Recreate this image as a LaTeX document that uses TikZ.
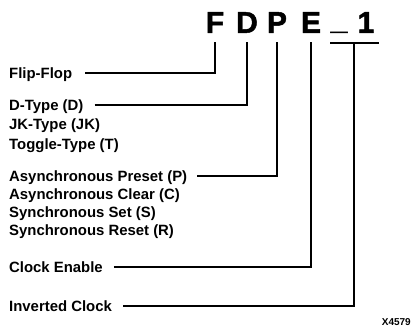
\documentclass[tikz,border=0pt]{standalone}
\usepackage{fontspec}
\setmainfont{Liberation Sans}
\newfontfamily\heavyfont[FakeBold=1.6]{Liberation Sans Bold}
\begin{document}
\begin{tikzpicture}[x=1pt,y=-1pt,
  lbl/.style={anchor=west,inner sep=0pt,text height=10.6pt,text depth=0pt,font=\fontsize{14.9}{16}\selectfont\bfseries},
  ttl/.style={inner sep=0pt,text height=21.5pt,text depth=0pt,anchor=south,font=\fontsize{30}{32}\selectfont\heavyfont},
  conn/.style={line width=1.4pt}]
\useasboundingbox (0,0) rectangle (412,332);
% title letters
\node[ttl] (F) at (215,33) {F};
\node[ttl] (D) at (247,33) {D};
\node[ttl] (P) at (277,33) {P};
\node[ttl] (E) at (311,33) {E};
\node[ttl] (U) at (339,33) {\raisebox{3.5pt}{\_}};
\node[ttl] (O) at (366,33) {1};
\coordinate (ovL) at (330,43);
\coordinate (ovR) at (379,43);
\coordinate (ov) at (354,43);
\draw[conn] (ovL) -- (ovR);
% labels
\node[lbl] (lFF) at (9,73) {Flip-Flop};
\node[lbl] (lD) at (9,105) {D-Type (D)};
\node[lbl] (lJK) at (9,124.5) {JK-Type (JK)};
\node[lbl] (lT) at (9,144) {Toggle-Type (T)};
\node[lbl] (lAP) at (9,176) {Asynchronous Preset (P)};
\node[lbl] (lAC) at (9,194) {Asynchronous Clear (C)};
\node[lbl] (lSS) at (9,212) {Synchronous Set (S)};
\node[lbl] (lSR) at (9,230) {Synchronous Reset (R)};
\node[lbl] (lCE) at (9,267) {Clock Enable};
\node[lbl] (lIC) at (9,306) {Inverted Clock};
\node[inner sep=0pt,anchor=east,font=\fontsize{10}{12}\selectfont\bfseries] (code) at (411,322) {X4579};
% connectors
\draw[conn] ([xshift=13pt]lFF.east) -| ([yshift=-9pt]F.south);
\draw[conn] ([xshift=11pt]lD.east) -| ([yshift=-9pt]D.south);
\draw[conn] ([xshift=10pt]lAP.east) -| ([yshift=-9pt]P.south);
\draw[conn] ([xshift=11pt]lCE.east) -| ([yshift=-9pt]E.south);
\draw[conn] ([xshift=11pt]lIC.east) -| (ov);
\end{tikzpicture}
\end{document}
